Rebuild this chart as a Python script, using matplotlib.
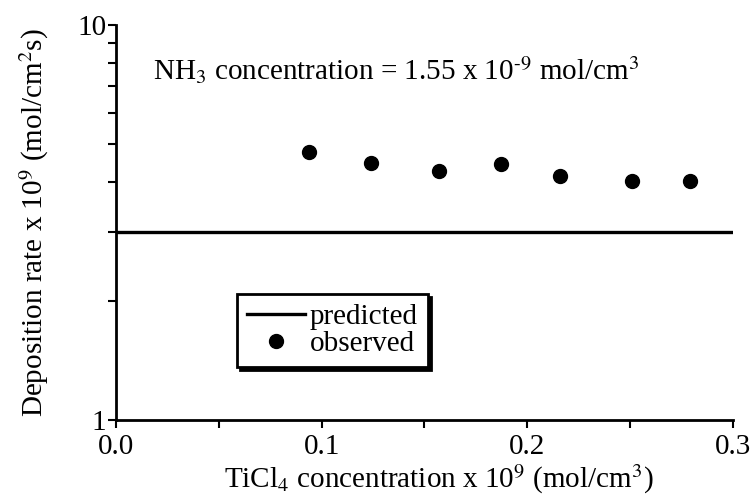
import matplotlib
matplotlib.use('Agg')
import matplotlib.pyplot as plt
from matplotlib.ticker import FixedLocator, NullFormatter, LogLocator

plt.rcParams['font.family'] = ['Liberation Serif', 'DejaVu Serif']
plt.rcParams['mathtext.fontset'] = 'stix'

# data
ticl4_conc = [0.094, 0.124, 0.157, 0.187, 0.216, 0.251, 0.279]
observed_rate = [4.78, 4.47, 4.27, 4.44, 4.15, 4.03, 4.03]
predicted_x = [0.0, 0.3]
predicted_rate = [3.0, 3.0]

fig = plt.figure(figsize=(7.54, 5.04), dpi=100)
ax = fig.add_axes([0.1538, 0.1667, 0.8183, 0.7837])

ax.plot(predicted_x, predicted_rate, color='black', linewidth=2.4, label='predicted')
ax.plot(ticl4_conc, observed_rate, 'o', color='black', markersize=10, label='observed')

ax.set_yscale('log')
ax.set_xlim(0, 0.3)
ax.set_ylim(1, 10)

ax.set_xticks([0.0, 0.1, 0.2, 0.3])
ax.set_xticklabels(['0.0', '0.1', '0.2', '0.3'])
ax.xaxis.set_minor_locator(FixedLocator([0.05, 0.15, 0.25]))
ax.yaxis.set_major_locator(FixedLocator([1, 10]))
ax.set_yticklabels(['1', '10'])
ax.yaxis.set_minor_locator(LogLocator(base=10, subs=range(2, 10)))
ax.yaxis.set_minor_formatter(NullFormatter())

for s in ['top', 'right']:
    ax.spines[s].set_visible(False)
for s in ['left', 'bottom']:
    ax.spines[s].set_linewidth(2)

ax.tick_params(which='both', direction='out', width=1.5, labelsize=21, color='black')
ax.tick_params(which='major', length=6)
ax.tick_params(which='minor', length=6)
ax.tick_params(axis='x', pad=4)
ax.tick_params(axis='y', pad=1)

ax.set_xlabel(r'TiCl$_4$ concentration x 10$^9$ (mol/cm$^3$)', fontsize=21, labelpad=2, x=0.523)
ax.set_ylabel(r'Deposition rate x 10$^9$ (mol/cm$^2$s)', fontsize=21, labelpad=19)

ax.text(0.06, 0.86, r'NH$_3$ concentration = 1.55 x 10$^{\text{-}9}$ mol/cm$^3$',
        transform=ax.transAxes, fontsize=21, va='baseline')

leg = ax.legend(loc='lower left', bbox_to_anchor=(0.196, 0.134), fontsize=21,
                frameon=True, fancybox=False, shadow={'color': 'black', 'alpha': 1},
                borderpad=0.35, labelspacing=0.0, handlelength=2.0, handletextpad=0.15,
                borderaxespad=0, edgecolor='black')
leg.get_frame().set_linewidth(2)
leg.get_frame().set_alpha(1)

fig.savefig('out.png', dpi=100, facecolor='white')
